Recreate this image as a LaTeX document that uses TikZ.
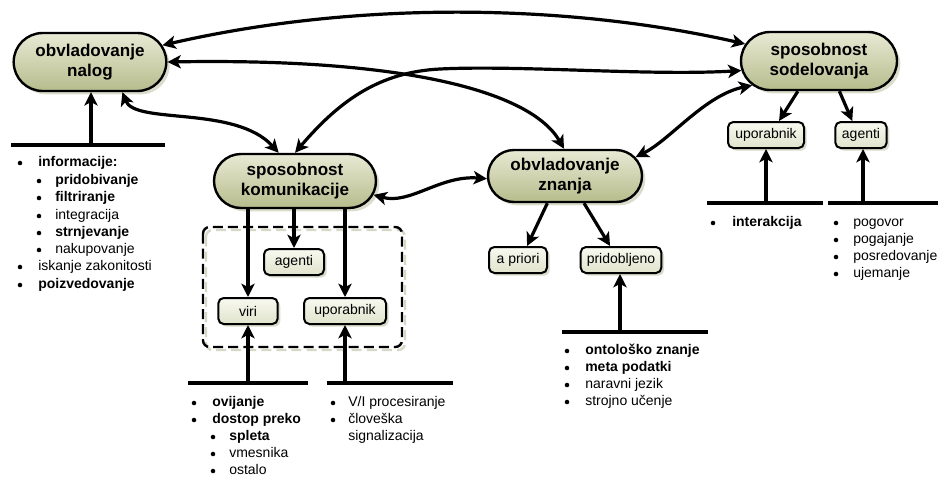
\documentclass[tikz,border=0pt]{standalone}
\usepackage{fontspec}
\setmainfont{Liberation Sans}
\usetikzlibrary{arrows.meta,shadows,shapes.misc}

\definecolor{olivetop}{RGB}{232,234,212}
\definecolor{olivebot}{RGB}{182,188,140}
\definecolor{paletop}{RGB}{248,249,240}
\definecolor{palebot}{RGB}{224,227,204}
\definecolor{shadowtone}{RGB}{214,216,198}

\tikzset{
  tip/.tip={Stealth[length=10pt,width=10pt,inset=2.6pt]},
  bigbox/.style={rounded rectangle, draw=black, line width=1.8pt,
    top color=olivetop, bottom color=olivebot, align=center, inner sep=0pt,
    font=\fontsize{12.8}{15}\selectfont\bfseries,
    drop shadow={shadow xshift=2.5pt, shadow yshift=-2.5pt, fill=shadowtone, opacity=0.9}},
  smallbox/.style={rectangle, rounded corners=4pt, draw=black, line width=1.5pt,
    top color=paletop, bottom color=palebot, inner sep=0pt, minimum height=19.5pt,
    font=\fontsize{10.5}{12}\selectfont,
    drop shadow={shadow xshift=2pt, shadow yshift=-2pt, fill=shadowtone, opacity=0.9}},
  conn/.style={line width=2.4pt, -tip},
  biconn/.style={line width=2.4pt, tip-tip},
  rule/.style={line width=2.4pt},
  frame/.style={line width=1.8pt, rounded corners=5pt, dash pattern=on 7.5pt off 3.8pt},
  listtext/.style={anchor=mid west, inner sep=0pt, font=\fontsize{10.5}{13}\selectfont},
}

% one bullet line of a list: name, bullet x, text x, y, text
\newcommand\listline[5]{%
  \fill (#2,#4) circle (1.7pt);
  \node[listtext] (#1) at (#3,#4) {#5};}

\begin{document}
\begin{tikzpicture}[x=0.75pt,y=-0.75pt]
\useasboundingbox (0,0) rectangle (938,479);

% group frame round the communication targets
\draw[frame, draw=shadowtone] (206,230) rectangle (405,350);
\draw[frame, draw=black] (203,227) rectangle (402,347);

% main capabilities
\node[bigbox, minimum width=114.5pt, minimum height=43.5pt] (nalog) at (90,62) {obvladovanje\\nalog};
\node[bigbox, minimum width=117pt, minimum height=43.5pt] (sod) at (819,61) {sposobnost\\sodelovanja};
\node[bigbox, minimum width=121.5pt, minimum height=40.5pt] (kom) at (295,181) {sposobnost\\komunikacije};
\node[bigbox, minimum width=115.5pt, minimum height=39pt] (zna) at (565,176) {obvladovanje\\znanja};

% sub items
\node[smallbox, minimum width=45pt] (agK) at (294,262) {agenti};
\node[smallbox, minimum width=44.5pt] (viri) at (248,311) {viri};
\node[smallbox, minimum width=61.5pt] (upK) at (345,311) {uporabnik};
\node[smallbox, minimum width=43.5pt] (apri) at (518,260) {a priori};
\node[smallbox, minimum width=60.5pt] (prid) at (621,260) {pridobljeno};
\node[smallbox, minimum width=57pt] (upS) at (766,135) {uporabnik};
\node[smallbox, minimum width=38.5pt] (agS) at (861,135) {agenti};

% links between the main capabilities
\draw[biconn] (nalog.13) .. controls (350,2) and (560,2) .. (sod.167);
\draw[biconn] (nalog.east) .. controls (400,58) and (530,90) .. (zna.92);
\draw[biconn] (kom.north) .. controls (340,100) and (380,72) .. (440,69)
  .. controls (520,65) and (650,76) .. (sod.187);
\draw[biconn] (nalog.-43) .. controls (135,125) and (235,105) .. (kom.120);
\draw[biconn] (zna.15) .. controls (670,140) and (705,95) .. (sod.200);
\draw[biconn] (kom.-10) .. controls (410,205) and (440,175) .. (zna.182);

% capability to sub items
\draw[conn] (viri.north |- kom.south) -- (viri.north);
\draw[conn] (agK.north |- kom.south) -- (agK.north);
\draw[conn] (upK.north |- kom.south) -- (upK.north);
\draw[conn] (zna.237) -- (apri.57);
\draw[conn] (zna.-55) -- (prid.128);
\draw[conn] (sod.235) -- (upS.47);
\draw[conn] (sod.-56) -- (agS.122);

% list brackets
\coordinate (bn) at (91,145);
\draw[rule] (11,145) -- (165,145);
\draw[conn] (bn) -- (bn |- nalog.south);

\coordinate (bv) at (248,383);
\draw[rule] (188,383) -- (308,383);
\draw[conn] (bv) -- (viri.south);

\coordinate (bu) at (345,383);
\draw[rule] (327,383) -- (453,383);
\draw[conn] (bu) -- (upK.south);

\coordinate (bp) at (620,332);
\draw[rule] (562,332) -- (708,332);
\draw[conn] (bp) -- (bp |- prid.south);

\coordinate (bs) at (766,203);
\draw[rule] (707,203) -- (823,203);
\draw[conn] (bs) -- (upS.south);

\coordinate (ba) at (863,203);
\draw[rule] (828,203) -- (938,203);
\draw[conn] (ba) -- (ba |- agS.south);

% lists
\listline{n1}{20}{38}{163}{\textbf{informacije:}}
\listline{n2}{39}{55}{181}{\textbf{pridobivanje}}
\listline{n3}{39}{55}{198}{\textbf{filtriranje}}
\listline{n4}{39}{55}{216}{integracija}
\listline{n5}{39}{55}{233}{\textbf{strnjevanje}}
\listline{n6}{39}{55}{250}{nakupovanje}
\listline{n7}{20}{38}{267}{iskanje zakonitosti}
\listline{n8}{20}{38}{285}{\textbf{poizvedovanje}}

\listline{v1}{194}{212}{403}{\textbf{ovijanje}}
\listline{v2}{194}{212}{420}{\textbf{dostop preko}}
\listline{v3}{213}{229}{437}{\textbf{spleta}}
\listline{v4}{213}{229}{454}{vmesnika}
\listline{v5}{213}{229}{471}{ostalo}

\listline{u1}{333}{348}{403}{V/I procesiranje}
\listline{u2}{333}{348}{420}{človeška}
\node[listtext] (u3) at (348,437) {signalizacija};

\listline{p1}{567}{585}{351}{\textbf{ontološko znanje}}
\listline{p2}{567}{585}{368}{\textbf{meta podatki}}
\listline{p3}{567}{585}{385}{naravni jezik}
\listline{p4}{567}{585}{402}{strojno učenje}

\listline{s1}{713}{732}{223}{\textbf{interakcija}}

\listline{a1}{836}{853}{223}{pogovor}
\listline{a2}{836}{853}{240}{pogajanje}
\listline{a3}{836}{853}{257}{posredovanje}
\listline{a4}{836}{853}{274}{ujemanje}
\end{tikzpicture}
\end{document}
